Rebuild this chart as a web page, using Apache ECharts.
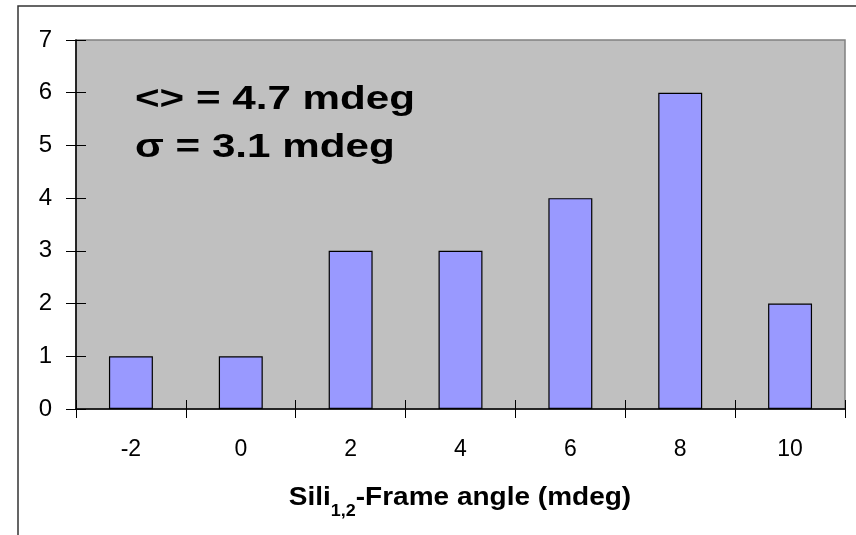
<!DOCTYPE html>
<html><head><meta charset="utf-8">
<script src="https://cdn.jsdelivr.net/npm/echarts@6/dist/echarts.min.js"></script>
<style>html,body{margin:0;padding:0;background:#fff}#c{width:856px;height:535px}</style>
</head><body><div id="c"></div>
<script>
const categories = ['-2','0','2','4','6','8','10'];
const counts = [1,1,3,3,4,6,2];
const yTicks = [0,1,2,3,4,5,6,7];
const noteLines = ['<> = 4.7 mdeg','σ = 3.1 mdeg'];
const axisTitle = ['Sili','1,2','-Frame angle (mdeg)'];
const font = 'Liberation Sans, Arial, sans-serif';
const chart = echarts.init(document.getElementById('c'));
chart.setOption({
  animation:false,
  graphic:[
    {type:'rect',shape:{x:18,y:6,width:900,height:600},style:{fill:'none',stroke:'#333',lineWidth:1.5},z:-1},
    {type:'text',x:135,y:100,scaleX:1.24,style:{x:0,y:0,text:noteLines[0],font:'bold 34px '+font,fill:'#000',verticalAlign:'middle'},z:10},
    {type:'text',x:135,y:148,scaleX:1.24,style:{x:0,y:0,text:noteLines[1],font:'bold 34px '+font,fill:'#000',verticalAlign:'middle'},z:10},
    {type:'text',x:460,y:498,scaleX:1.12,style:{x:0,y:0,align:'center',verticalAlign:'middle',
      text:'{b|'+axisTitle[0]+'}{s|'+axisTitle[1]+'}{b|'+axisTitle[2]+'}',
      rich:{b:{font:'bold 25px '+font,fill:'#000'},s:{font:'bold 16px '+font,fill:'#000',verticalAlign:'bottom',padding:[0,0,-9,0]}}},z:10}
  ],
  grid:{left:76,right:11,top:40,bottom:126,show:true,backgroundColor:'#c0c0c0',borderColor:'#808080',borderWidth:1.5},
  xAxis:[{type:'category',data:categories,
    axisLine:{lineStyle:{color:'#000',width:1.5}},
    axisTick:{show:true,length:9,alignWithLabel:false,lineStyle:{color:'#000',width:1}},
    axisLabel:{color:'#000',fontSize:23,fontFamily:font,margin:29}
  },{type:'category',data:categories,position:'bottom',
    axisLine:{show:false},axisTick:{show:true,inside:true,length:9,lineStyle:{color:'#000',width:1}},axisLabel:{show:false}}],
  yAxis:[{type:'value',min:0,max:7,interval:1,
    axisLine:{show:true,lineStyle:{color:'#000',width:1.5}},
    axisTick:{show:true,length:10,lineStyle:{color:'#000',width:1}},
    axisLabel:{color:'#000',fontSize:24,fontFamily:font,margin:24,formatter:v=>yTicks.includes(v)?String(v):''},
    splitLine:{show:false}
  },{type:'value',min:0,max:7,interval:1,position:'left',
    axisLine:{show:false},axisTick:{show:true,inside:true,length:10,lineStyle:{color:'#000',width:1}},axisLabel:{show:false},splitLine:{show:false}}],
  series:[{type:'bar',data:counts,barWidth:'40%',itemStyle:{color:'#9999ff',borderColor:'#000',borderWidth:1.2}}]
});
</script></body></html>
